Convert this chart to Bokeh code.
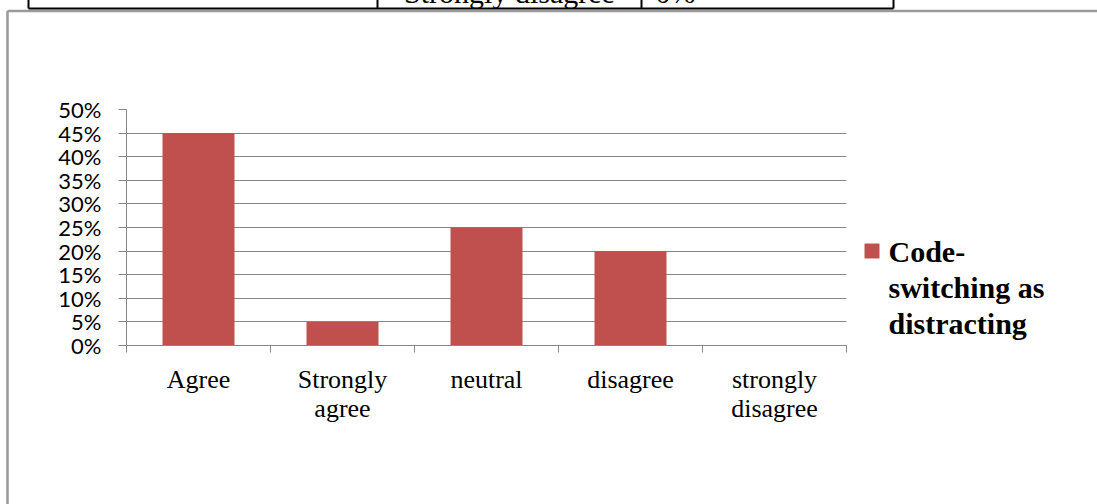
from bokeh.plotting import figure
from bokeh.models import Range1d, FixedTicker, NumeralTickFormatter
from bokeh.embed import file_html
from bokeh.resources import INLINE

# Survey responses: share of answers per category
categories = ["Agree", "Strongly agree", "neutral", "disagree", "strongly disagree"]
tick_labels = ["Agree", "Strongly\nagree", "neutral", "disagree", "strongly\ndisagree"]
values = [0.45, 0.05, 0.25, 0.20, 0.0]
series_lines = ["Code-", "switching as", "distracting"]
y_ticks = [0.0, 0.05, 0.10, 0.15, 0.20, 0.25, 0.30, 0.35, 0.40, 0.45, 0.50]
y_max = 0.5

# Last row of the table that sits just above the chart
table_cells = ["Strongly disagree", "0%"]

BAR_COLOR = "#C0504D"
GRID_COLOR = "#868686"

# Layout of the canvas (pixels)
W, H = 1097, 504
LEFT, RIGHT, TOP, BOTTOM = 126, 251, 109, 159
FW, FH = W - LEFT - RIGHT, H - TOP - BOTTOM
n = len(categories)
# the text glyph's alphabetic anchor sits this many px above the drawn baseline
TEXT_SHIFT = 11


def dx(px):
    """Canvas pixel column -> x data coordinate."""
    return (px - LEFT) / FW * n


def dy(py):
    """Canvas pixel row (from top) -> y data coordinate."""
    return (TOP + FH - py) / FH * y_max


p = figure(frame_width=FW, frame_height=FH,
           x_range=Range1d(0, n), y_range=Range1d(0, y_max),
           min_border_left=LEFT, min_border_right=RIGHT,
           min_border_top=TOP, min_border_bottom=BOTTOM,
           output_backend="svg", toolbar_location=None)
p.outline_line_color = None
p.background_fill_color = "white"
p.border_fill_color = "white"

centers = [i + 0.5 for i in range(n)]
bars = p.vbar(x=centers, top=values, width=0.5, fill_color=BAR_COLOR,
              line_color=None)

# x axis: category names centred under bars, tick marks between categories
xa = p.xaxis[0]
xa.ticker = FixedTicker(ticks=centers, minor_ticks=list(range(n + 1)))
xa.major_label_overrides = {c: t for c, t in zip(centers, tick_labels)}
xa.major_tick_line_color = None
xa.major_tick_out = 0
xa.major_tick_in = 0
xa.minor_tick_out = 7
xa.minor_tick_in = 0
xa.minor_tick_line_color = GRID_COLOR
xa.axis_line_color = GRID_COLOR
xa.major_label_text_font = "Liberation Serif"
xa.major_label_text_font_size = "26px"
xa.major_label_text_line_height = 1.0
xa.major_label_text_color = "black"
xa.major_label_standoff = 12

# y axis: percentages
ya = p.yaxis[0]
ya.ticker = FixedTicker(ticks=y_ticks, minor_ticks=[])
ya.formatter = NumeralTickFormatter(format="0%")
ya.major_tick_out = 8
ya.major_tick_in = 0
ya.minor_tick_line_color = None
ya.major_tick_line_color = GRID_COLOR
ya.axis_line_color = GRID_COLOR
ya.major_label_text_font = "Lato"
ya.major_label_text_font_size = "22px"
ya.major_label_text_color = "black"
ya.major_label_standoff = 17

p.xgrid.visible = False
p.ygrid.ticker = FixedTicker(ticks=y_ticks)
p.ygrid.grid_line_color = GRID_COLOR
p.ygrid.grid_line_width = 1

# Legend key to the right of the plot: swatch on the first line,
# series name wrapped over three lines.  Drawn on the overlay level so
# it is not clipped to the plotting frame; anchors sit inside the frame
# and pixel offsets move the text out to the legend column.
p.segment(x0=[dx(864)], y0=[dy(250.5)], x1=[dx(879)], y1=[dy(250.5)],
          line_color=BAR_COLOR, line_width=15, line_cap="butt",
          level="overlay")
legend_baselines = [262, 298, 334]
p.text(x=[dx(840)] * len(series_lines),
       y=[dy(b - TEXT_SHIFT) for b in legend_baselines],
       text=series_lines, x_offset=888 - 840,
       text_font={"value": "Liberation Serif"}, text_font_style="bold",
       text_font_size="30px", text_baseline="alphabetic",
       text_align="left", text_color="black", level="overlay")

# Chart area border (grey) and the table rule above it (black)
p.segment(x0=[dx(7), dx(7)], y0=[dy(10.5), dy(10.5)],
          x1=[dx(7), dx(1110)], y1=[dy(520), dy(10.5)],
          line_color="#9A9A9A", line_width=2.5, level="overlay")
rule_x = [28, 377, 641, 893]
p.segment(x0=[dx(28)] + [dx(v) for v in rule_x],
          y0=[dy(8)] + [dy(-5)] * len(rule_x),
          x1=[dx(893)] + [dx(v) for v in rule_x],
          y1=[dy(8)] * (len(rule_x) + 1),
          line_color="black", line_width=2, level="overlay")

# Table text: only the lower part of the row is still on the page
cell_x = [509, 655]
cell_align = ["center", "left"]
cell_baseline = 3
anchor_row = TOP + 5
for txt, px, al in zip(table_cells, cell_x, cell_align):
    p.text(x=[dx(px)], y=[dy(anchor_row)], text=[txt],
           y_offset=cell_baseline - TEXT_SHIFT - anchor_row,
           text_font={"value": "Liberation Serif"}, text_font_size="30px",
           text_baseline="alphabetic", text_align=al, text_color="black",
           level="overlay")

open("out.html", "w").write(file_html(p, INLINE))
